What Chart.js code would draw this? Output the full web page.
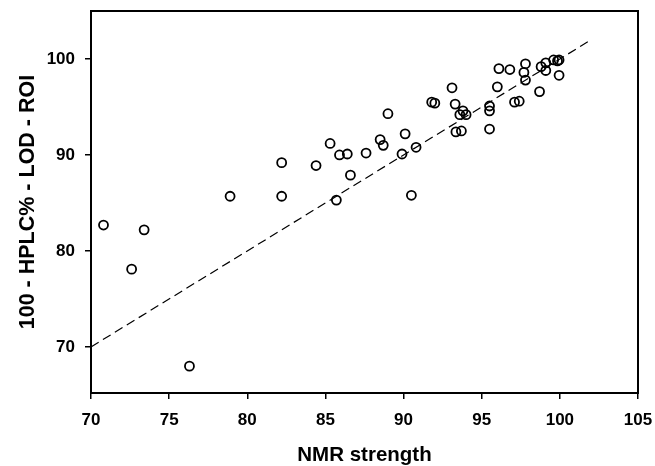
<!DOCTYPE html>
<html lang="en">
<head>
  <meta charset="UTF-8">
  <title>NMR vs HPLC</title>
  <script src="https://cdn.jsdelivr.net/npm/chart.js"></script>
  <style>
    body { margin: 0; padding: 0; background: #fff; }
    .chart-box { width: 655px; height: 466px; }
  </style>
</head>
<body>

<div class="chart-box"><canvas id="nmrChart"></canvas></div>

<script>
  // values
  const nmrStrength = [70.8, 72.6, 73.4, 76.3, 78.9, 82.2, 82.2, 84.4, 85.3, 85.9,
                       86.4, 86.6, 85.7, 87.6, 88.5, 88.7, 89.0, 90.1, 89.9, 90.8,
                       90.5, 91.8, 92.0, 93.1, 93.3, 93.8, 94.0, 93.6, 93.35, 93.7,
                       95.5, 95.5, 95.5, 96.0, 96.1, 96.8, 97.1, 97.4, 97.8, 97.7,
                       97.8, 98.7, 98.8, 99.1, 99.1, 99.6, 99.85, 99.95, 99.95];
  const hplcValue   = [82.7, 78.1, 82.2, 68.0, 85.7, 89.2, 85.7, 88.9, 91.2, 90.0,
                       90.1, 87.9, 85.3, 90.2, 91.6, 91.0, 94.3, 92.2, 90.1, 90.8,
                       85.8, 95.5, 95.4, 97.0, 95.3, 94.6, 94.2, 94.2, 92.4, 92.5,
                       95.1, 94.6, 92.7, 97.1, 99.0, 98.9, 95.5, 95.6, 99.5, 98.6,
                       97.8, 96.6, 99.2, 99.6, 98.8, 99.9, 99.8, 99.9, 98.3];
  const identityLine = [70, 102];
  const xTicks = [70, 75, 80, 85, 90, 95, 100, 105];
  const yTicks = [70, 80, 90, 100];

  const font = "'Liberation Sans', Arial, sans-serif";

  // full black frame round the plot area
  const frame = {
    id: 'frame',
    afterDraw(chart) {
      const a = chart.chartArea, ctx = chart.ctx;
      ctx.save();
      ctx.strokeStyle = '#000';
      ctx.lineWidth = 2;
      ctx.strokeRect(a.left, a.top, a.right - a.left, a.bottom - a.top);
      ctx.restore();
    }
  };

  // fixed scale sizes, no extra label padding
  function fixSize(s, w, h) {
    if (w) s.width = w;
    if (h) s.height = h;
    s.paddingTop = 0; s.paddingBottom = 0; s.paddingLeft = 0; s.paddingRight = 0;
  }

  new Chart(document.getElementById('nmrChart'), {
    type: 'scatter',
    data: {
      datasets: [
        {
          data: nmrStrength.map((x, i) => ({ x: x, y: hplcValue[i] })),
          pointStyle: 'circle',
          pointRadius: 4.5,
          pointBorderWidth: 1.8,
          pointBorderColor: '#000',
          pointBackgroundColor: 'rgba(255,255,255,0)',
          showLine: false
        },
        {
          data: identityLine.map(v => ({ x: v, y: v })),
          showLine: true,
          borderColor: '#000',
          borderWidth: 1.2,
          borderDash: [9, 5],
          pointRadius: 0
        }
      ]
    },
    options: {
      responsive: true,
      maintainAspectRatio: false,
      animation: false,
      layout: { padding: { left: 17, top: 11, right: 17, bottom: 0 } },
      plugins: { legend: { display: false }, tooltip: { enabled: false } },
      scales: {
        x: {
          type: 'linear',
          min: 70,
          max: 105,
          afterBuildTicks: s => { s.ticks = xTicks.map(v => ({ value: v })); },
          afterFit: s => fixSize(s, 0, 73),
          border: { display: false },
          grid: { drawOnChartArea: false, drawTicks: true, tickLength: 6, color: '#000', lineWidth: 1.5 },
          ticks: { color: '#000', padding: 11, maxRotation: 0, font: { family: font, size: 17, weight: 'bold' } },
          title: {
            display: true,
            text: 'NMR strength',
            color: '#000',
            padding: 0,
            font: { family: font, size: 20.5, weight: 'bold', lineHeight: 1 }
          }
        },
        y: {
          type: 'linear',
          min: 65.2,
          max: 105,
          afterBuildTicks: s => { s.ticks = yTicks.map(v => ({ value: v })); },
          afterFit: s => fixSize(s, 74, 0),
          border: { display: false },
          grid: { drawOnChartArea: false, drawTicks: true, tickLength: 6, color: '#000', lineWidth: 1.5 },
          ticks: { color: '#000', padding: 10, font: { family: font, size: 17, weight: 'bold' } },
          title: {
            display: true,
            text: '100 - HPLC% - LOD - ROI',
            color: '#000',
            padding: 0,
            font: { family: font, size: 21.5, weight: 'bold', lineHeight: 1 }
          }
        }
      }
    },
    plugins: [frame]
  });
</script>
</body>
</html>
